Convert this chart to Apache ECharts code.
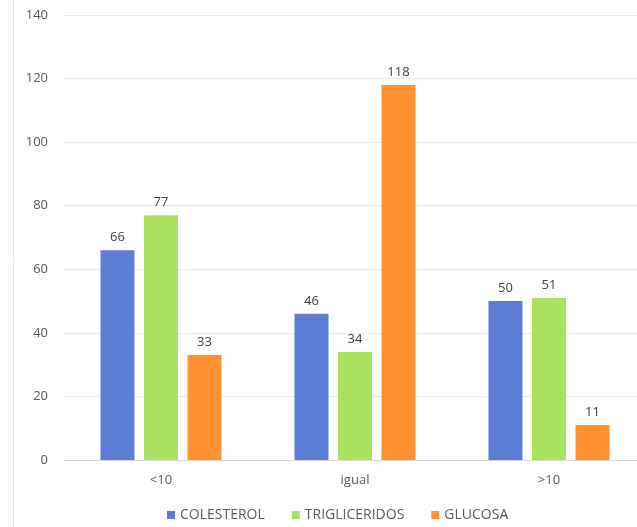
<!DOCTYPE html>
<html><head><meta charset="utf-8">
<script src="https://cdn.jsdelivr.net/npm/echarts@6/dist/echarts.min.js"></script>
<style>html,body{margin:0;padding:0;background:#fff;overflow:hidden}#c{width:646px;height:527px}</style>
</head><body><div id="c"></div>
<script>
const categories = ['<10', 'igual', '>10'];
const colesterol = [66, 46, 50];
const trigliceridos = [77, 34, 51];
const glucosa = [33, 118, 11];
const seriesNames = ['COLESTEROL', 'TRIGLICERIDOS', 'GLUCOSA'];
const yTicks = { min: 0, max: 140, interval: 20 };

const colors = ['#5B7DD6', '#A8E25E', '#FF9130'];
const font = 'Open Sans, Liberation Sans, sans-serif';
const chart = echarts.init(document.getElementById('c'));
const label = { show: true, position: 'top', color: '#404040', fontSize: 13, fontFamily: font, distance: 6 };
function mk(name, data, i) {
  return { name, type: 'bar', data, barWidth: 34, barGap: '28%', itemStyle: { color: colors[i] }, label };
}
chart.setOption({
  animation: false,
  color: colors,
  grid: { left: 64, right: 0, top: 15, bottom: 67 },
  legend: {
    bottom: 0, left: 162, itemWidth: 8, itemHeight: 8, itemGap: 27, icon: 'rect',
    textStyle: { color: '#595959', fontSize: 14, fontFamily: font },
    data: seriesNames
  },
  xAxis: {
    type: 'category', data: categories,
    axisLine: { lineStyle: { color: '#D9D9D9' } }, axisTick: { show: false },
    axisLabel: { color: '#595959', fontSize: 13, fontFamily: font, margin: 14 }
  },
  yAxis: {
    type: 'value', min: yTicks.min, max: yTicks.max, interval: yTicks.interval,
    axisLine: { show: false }, axisTick: { show: false },
    splitLine: { lineStyle: { color: '#EBEBEB' } },
    axisLabel: { color: '#595959', fontSize: 13, fontFamily: font, margin: 16 }
  },
  graphic: [{ type: 'line', shape: { x1: 13.5, y1: 0, x2: 13.5, y2: 527 }, style: { stroke: '#E6E6E6', lineWidth: 1 } }],
  series: [mk(seriesNames[0], colesterol, 0), mk(seriesNames[1], trigliceridos, 1), mk(seriesNames[2], glucosa, 2)]
});
</script></body></html>
